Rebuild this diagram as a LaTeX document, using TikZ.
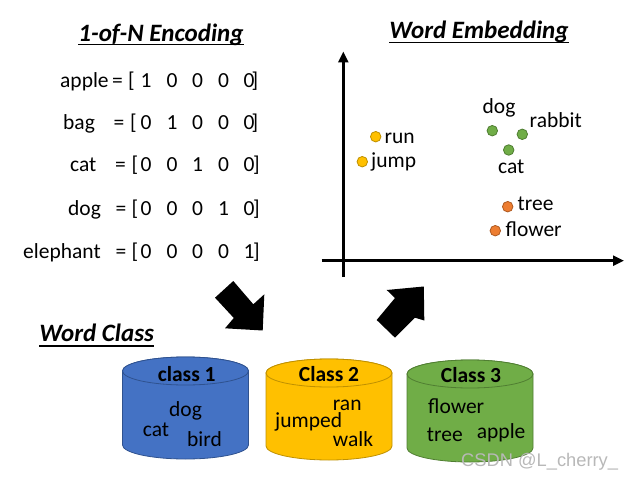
\documentclass[tikz,border=0pt]{standalone}
\usepackage{fontspec}
\setmainfont{Carlito}
\newfontfamily\wmfont{Liberation Sans}
\usetikzlibrary{arrows.meta}
\definecolor{yel}{HTML}{FFC000}
\definecolor{yelD}{HTML}{BF9000}
\definecolor{grn}{HTML}{70AD47}
\definecolor{grnD}{HTML}{507E32}
\definecolor{org}{HTML}{ED7D31}
\definecolor{orgD}{HTML}{AE5A21}
\definecolor{blu}{HTML}{4472C4}
\definecolor{bluD}{HTML}{2F528F}
\begin{document}
\begin{tikzpicture}[x=1pt,y=-1pt,
  txt/.style={inner sep=0pt, anchor=base west, font=\fontsize{21.5}{25}\selectfont},
  ctxt/.style={txt, anchor=base},
  rtxt/.style={txt, anchor=base east},
  ttl/.style={inner sep=0pt, anchor=base, font=\fontsize{25}{28}\selectfont\bfseries\itshape},
  uline/.style={line width=1.5pt},
  dot/.style={circle, inner sep=0pt, minimum size=10.5pt, fill=#1, draw=#1D, line width=0.8pt},
  axis/.style={line width=2.6pt, -{Triangle[length=11pt,width=10pt]}},
  blockarrow/.style={fill=black, draw=none},
  cylbody/.style={fill=#1, draw=#1D, line width=0.8pt},
  ctitle/.style={txt, anchor=base, font=\fontsize{21.5}{25}\selectfont\bfseries}
]
\useasboundingbox (0,0) rectangle (634,481);

% ---------- 1-of-N Encoding ----------
\node[ttl] (t1) at (161,41.5) {1-of-N Encoding};
\draw[uline] ([yshift=-3.2pt]t1.base west) -- ([yshift=-3.2pt]t1.base east);

\foreach \i/\name/\nx/\by/\eq/\lb/\rb/\da/\db/\dc/\dd/\de in {
  1/apple/60/88/117.5/128/258.5/1/0/0/0/0,
  2/bag/63/130/119/130/258.5/0/1/0/0/0,
  3/cat/70/172/120.5/131.5/260/0/0/1/0/0,
  4/dog/68/215/121/131.5/260/0/0/0/1/0,
  5/elephant/23/258/121/131.5/260/0/0/0/0/1}{
  \node[txt] (name\i) at (\nx,\by) {\name};
  \node[ctxt] (eq\i) at (\eq,\by) {=};
  \node[txt] (lb\i) at (\lb,\by) {[};
  \node[ctxt] (va\i) at (146,\by) {\da};
  \node[ctxt] (vb\i) at (172,\by) {\db};
  \node[ctxt] (vc\i) at (197.5,\by) {\dc};
  \node[ctxt] (vd\i) at (223.5,\by) {\dd};
  \node[ctxt] (ve\i) at (249,\by) {\de};
  \node[rtxt] (rb\i) at (\rb,\by) {]};
}

% ---------- Word Embedding ----------
\node[ttl] (t2) at (479,38.5) {Word Embedding};
\draw[uline] ([yshift=-3.8pt]t2.base west) -- ([yshift=-3.8pt]t2.base east);

\coordinate (yb) at (343.3,277);
\coordinate (yt) at (343.3,51.5);
\coordinate (xl) at (321.5,260.7);
\coordinate (xr) at (624,260.7);
\draw[axis] (yb) -- (yt);
\draw[axis] (xl) -- (xr);

\node[dot=yel] (dRun) at (375.7,136.7) {};
\node[dot=yel] (dJump) at (362.3,161.7) {};
\node[dot=grn] (dDog) at (492.3,130.7) {};
\node[dot=grn] (dRabbit) at (522.3,134.3) {};
\node[dot=grn] (dCat) at (508.7,150) {};
\node[dot=org] (dTree) at (507.7,206.7) {};
\node[dot=org] (dFlower) at (495.3,230.7) {};

\node[txt] (lRun) at (384.5,143.3) {run};
\node[txt] (lJump) at (371,167.5) {jump};
\node[txt] (lDog) at (482.5,113.3) {dog};
\node[txt] (lRabbit) at (529.5,127.7) {rabbit};
\node[txt] (lCat) at (498,173.3) {cat};
\node[txt] (lTree) at (517.5,210) {tree};
\node[txt] (lFlower) at (505.5,236.7) {flower};

% ---------- block arrows ----------
\fill[blockarrow] (233.3,281) -- (253.3,304.3) -- (264.3,294.3) -- (262.7,330.5)
  -- (225,328.3) -- (233.8,318) -- (215,297.7) -- cycle;
\fill[blockarrow] (423.8,286.5) -- (386.7,290) -- (395,298) -- (376.7,320)
  -- (395,337.7) -- (415,317.7) -- (424.3,320.5) -- cycle;

% ---------- Word Class ----------
\node[ttl] (t3) at (96.7,341) {Word Class};
\draw[uline] ([yshift=-5pt]t3.base west) -- ([yshift=-5pt]t3.base east);

% cylinders
\foreach \cx/\ty/\by/\c in {185.5/371/445/blu, 329/373/446/yel, 470/374/448/grn}{
  \draw[cylbody=\c] (\cx-63,\ty) -- (\cx-63,\by)
     arc[start angle=180, end angle=360, x radius=63pt, y radius=14pt]
     -- (\cx+63,\ty)
     arc[start angle=0, end angle=180, x radius=63pt, y radius=14pt] -- cycle;
  \draw[cylbody=\c] (\cx,\ty) ellipse[x radius=63pt, y radius=14pt];
}

\node[ctitle] (c1) at (186.7,381.7) {class 1};
\node[txt] (c1dog) at (169,416.7) {dog};
\node[txt] (c1cat) at (142.7,436.7) {cat};
\node[txt] (c1bird) at (187,446.7) {bird};

\node[ctitle] (c2) at (329,381.7) {Class 2};
\node[txt] (c2ran) at (332.7,410.7) {ran};
\node[txt] (c2jumped) at (275,427.3) {jumped};
\node[txt] (c2walk) at (332.7,446) {walk};

\node[ctitle] (c3) at (471,382.3) {Class 3};
\node[txt] (c3flower) at (428,413.3) {flower};
\node[txt] (c3tree) at (426.7,441.7) {tree};
\node[txt] (c3apple) at (476.7,438.3) {apple};

% watermark
\node[inner sep=0pt, anchor=base west, text=black!28, font=\fontsize{18.3}{22}\wmfont] (wm) at (461,466.7) {CSDN @L\_cherry\_};
\end{tikzpicture}
\end{document}
